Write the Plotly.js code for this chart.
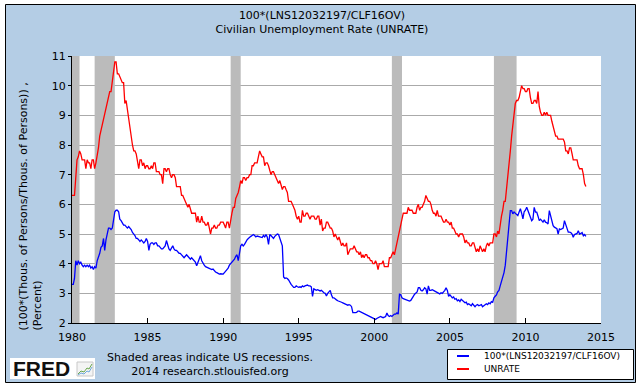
<!DOCTYPE html>
<html>
<head>
<meta charset="utf-8">
<script src="https://cdn.plot.ly/plotly-3.0.1.min.js"></script>
<style>html,body{margin:0;padding:0;background:#fff}#chart{width:644px;height:390px}</style>
</head>
<body>
<div id="chart"></div>
<script>
// ---------------- DATA ----------------
const startYear = 1980;
const seriesNames = ['100*(LNS12032197/CLF16OV)', 'UNRATE'];
const titleLines = ['100*(LNS12032197/CLF16OV)', 'Civilian Unemployment Rate (UNRATE)'];
const yTitleLines = ['(100*(Thous. of Persons/Thous. of Persons)) ,', '(Percent)'];
const noteLines = ['Shaded areas indicate US recessions.', '2014 research.stlouisfed.org'];
const xRange = ['1980-01-01', '2015-01-01'];
const yRange = [2, 11];
const recStart = ['1980-01-01', '1981-07-01', '1990-07-01', '2001-03-01', '2007-12-01'];
const recEnd   = ['1980-07-01', '1982-11-01', '1991-03-01', '2001-11-01', '2009-06-01'];

// monthly, Jan 1980 .. Jan 2014
const ratioSeries = [
 3.3,3.3,3.5,4.1,3.95,4.1,4.0,4.05,3.95,3.9,3.95,3.9,        // 1980
 3.95,3.9,3.95,3.85,3.9,3.8,3.9,3.85,4.1,4.2,4.35,4.55,      // 1981
 4.6,4.85,4.45,4.8,5.0,5.2,5.2,5.15,5.2,5.5,5.75,5.8,        // 1982
 5.8,5.75,5.5,5.45,5.35,5.3,5.3,5.25,5.2,5.25,5.2,5.15,      // 1983
 5.05,5.0,4.95,4.85,4.85,4.8,4.75,4.8,4.75,4.7,4.75,4.85,    // 1984
 4.75,4.45,4.65,4.7,4.7,4.65,4.7,4.7,4.6,4.6,4.55,4.5,       // 1985
 4.5,4.55,4.6,4.78,4.6,4.5,4.45,4.55,4.6,4.5,4.45,4.45,      // 1986
 4.4,4.35,4.35,4.3,4.25,4.2,4.25,4.3,4.25,4.2,4.15,4.2,      // 1987
 4.15,4.1,4.05,3.93,4.05,4.15,4.27,4.1,4.0,3.95,3.9,3.88,    // 1988
 3.85,3.82,3.8,3.8,3.82,3.75,3.72,3.7,3.68,3.65,3.66,3.65,   // 1989
 3.65,3.7,3.75,3.78,3.85,3.95,4.0,4.05,4.1,4.15,4.25,4.3,    // 1990
 4.1,4.45,4.6,4.65,4.6,4.65,4.75,4.8,4.85,4.9,4.92,4.95,     // 1991
 4.98,4.95,4.9,4.93,4.92,4.9,4.9,4.88,4.95,4.9,4.98,4.9,     // 1992
 4.65,4.98,4.95,4.9,4.85,4.92,4.95,5.0,4.98,4.85,4.75,4.6,   // 1993
 3.55,3.5,3.52,3.5,3.45,3.35,3.3,3.25,3.2,3.2,3.25,3.22,     // 1994
 3.2,3.22,3.2,3.25,3.22,3.25,3.27,3.28,3.25,3.25,3.22,2.9,   // 1995
 3.15,3.12,3.1,3.12,3.1,3.08,3.1,3.05,3.02,3.0,2.91,3.0,     // 1996
 3.05,3.1,2.95,2.85,2.85,2.8,2.78,2.75,2.74,2.72,2.7,2.68,   // 1997
 2.65,2.63,2.62,2.6,2.62,2.6,2.55,2.35,2.34,2.35,2.36,2.4,   // 1998
 2.4,2.38,2.36,2.33,2.32,2.3,2.28,2.25,2.23,2.22,2.2,2.18,   // 1999
 2.15,2.12,2.15,2.18,2.2,2.22,2.2,2.18,2.2,2.22,2.34,2.25,   // 2000
 2.22,2.25,2.22,2.28,2.3,2.3,2.34,2.3,2.97,2.95,2.85,2.82,   // 2001
 2.8,2.8,2.78,2.76,2.74,2.76,2.85,2.9,2.97,3.0,3.05,3.19,    // 2002
 3.19,3.1,3.08,3.12,3.19,3.15,2.97,3.25,3.1,3.1,3.12,3.1,    // 2003
 3.08,3.05,3.03,3.0,2.98,3.02,3.0,3.05,3.1,3.19,3.1,2.9,     // 2004
 2.95,2.9,2.85,2.88,2.8,2.82,2.75,2.78,2.72,2.8,2.75,2.7,    // 2005
 2.68,2.7,2.62,2.65,2.6,2.58,2.65,2.6,2.55,2.6,2.62,2.58,    // 2006
 2.6,2.62,2.55,2.58,2.6,2.65,2.62,2.68,2.65,2.72,2.7,2.85,   // 2007
 2.9,2.95,3.05,3.1,3.25,3.4,3.5,3.7,3.95,4.43,4.9,5.34,      // 2008
 5.79,5.79,5.68,5.74,5.7,5.65,5.62,5.74,5.85,5.7,5.51,5.75,  // 2009
 5.8,5.9,5.8,5.7,5.57,5.45,5.5,5.9,5.74,5.74,5.6,5.45,       // 2010
 5.5,5.45,5.4,5.48,5.4,5.38,5.34,5.79,5.6,5.4,5.28,5.23,     // 2011
 5.2,5.18,5.0,5.17,5.15,5.17,5.2,5.45,5.3,5.2,5.06,5.06,     // 2012
 5.05,5.0,4.89,4.98,5.0,5.02,5.11,5.0,5.02,5.05,4.94,4.98,   // 2013
 4.92                                                        // 2014
];

const unrate = [
 6.3,6.3,6.3,6.9,7.5,7.6,7.8,7.7,7.5,7.5,7.5,7.2,            // 1980
 7.5,7.4,7.4,7.2,7.5,7.5,7.2,7.4,7.6,7.9,8.3,8.5,            // 1981
 8.6,8.9,9.0,9.3,9.4,9.6,9.8,9.8,10.1,10.4,10.8,10.8,        // 1982
 10.4,10.4,10.3,10.2,10.1,10.1,9.4,9.5,9.2,8.8,8.5,8.3,      // 1983
 8.0,7.8,7.8,7.7,7.4,7.2,7.5,7.5,7.3,7.4,7.2,7.3,            // 1984
 7.3,7.2,7.2,7.3,7.2,7.4,7.4,7.1,7.1,7.1,7.0,7.0,            // 1985
 6.7,7.2,7.2,7.1,7.2,7.2,7.0,6.9,7.0,7.0,6.9,6.6,            // 1986
 6.6,6.6,6.6,6.3,6.3,6.2,6.1,6.0,5.9,6.0,5.8,5.7,            // 1987
 5.7,5.7,5.7,5.4,5.6,5.4,5.4,5.6,5.4,5.4,5.3,5.3,            // 1988
 5.4,5.2,5.0,5.2,5.2,5.3,5.2,5.2,5.3,5.3,5.4,5.4,            // 1989
 5.4,5.3,5.2,5.4,5.4,5.2,5.5,5.7,5.9,5.9,6.2,6.3,            // 1990
 6.4,6.6,6.8,6.7,6.9,6.9,6.8,6.9,6.9,7.0,7.0,7.3,            // 1991
 7.3,7.4,7.4,7.4,7.6,7.8,7.7,7.6,7.6,7.3,7.4,7.4,            // 1992
 7.3,7.1,7.0,7.1,7.1,7.0,6.9,6.8,6.7,6.8,6.6,6.5,            // 1993
 6.6,6.6,6.5,6.4,6.1,6.1,6.1,6.0,5.9,5.8,5.6,5.5,            // 1994
 5.6,5.4,5.4,5.8,5.6,5.6,5.7,5.7,5.6,5.5,5.6,5.6,            // 1995
 5.6,5.5,5.5,5.6,5.6,5.3,5.5,5.1,5.2,5.2,5.4,5.4,            // 1996
 5.3,5.2,5.2,5.1,4.9,5.0,4.9,4.8,4.9,4.7,4.6,4.7,            // 1997
 4.6,4.6,4.7,4.3,4.4,4.5,4.5,4.5,4.6,4.5,4.4,4.4,            // 1998
 4.3,4.4,4.2,4.3,4.2,4.3,4.3,4.2,4.2,4.1,4.1,4.0,            // 1999
 4.0,4.1,4.0,3.8,4.0,4.0,4.0,4.1,3.9,3.9,3.9,3.9,            // 2000
 4.2,4.2,4.3,4.4,4.3,4.5,4.6,4.9,5.0,5.3,5.5,5.7,            // 2001
 5.7,5.7,5.7,5.9,5.8,5.8,5.8,5.7,5.7,5.7,5.9,6.0,            // 2002
 5.8,5.9,5.9,6.0,6.1,6.3,6.2,6.1,6.1,6.0,5.8,5.7,            // 2003
 5.7,5.6,5.8,5.6,5.6,5.6,5.5,5.4,5.4,5.5,5.4,5.4,            // 2004
 5.3,5.4,5.2,5.2,5.1,5.0,5.0,4.9,5.0,5.0,5.0,4.9,            // 2005
 4.7,4.8,4.7,4.7,4.6,4.6,4.7,4.7,4.5,4.4,4.5,4.4,            // 2006
 4.6,4.5,4.4,4.5,4.4,4.6,4.7,4.6,4.7,4.7,4.7,5.0,            // 2007
 5.0,4.9,5.1,5.0,5.4,5.6,5.8,6.1,6.1,6.5,6.8,7.3,            // 2008
 7.8,8.3,8.7,9.0,9.4,9.5,9.5,9.6,9.8,10.0,9.9,9.9,           // 2009
 9.8,9.8,9.9,9.9,9.6,9.4,9.4,9.5,9.5,9.4,9.8,9.3,            // 2010
 9.1,9.0,9.0,9.1,9.0,9.1,9.0,9.0,9.0,8.8,8.6,8.5,            // 2011
 8.3,8.3,8.2,8.2,8.2,8.2,8.2,8.1,7.8,7.8,7.7,7.9,            // 2012
 7.9,7.7,7.5,7.5,7.5,7.5,7.3,7.2,7.2,7.2,7.0,6.7,            // 2013
 6.6                                                         // 2014
];

// ---------------- BUILD ----------------
const months = ratioSeries.map((_, i) => {
  const y = startYear + Math.floor(i / 12);
  const m = (i % 12) + 1;
  return y + '-' + String(m).padStart(2, '0') + '-01';
});

const W = 644, H = 390;
const M = {l: 72, r: 43, t: 56, b: 67};
const PW = W - M.l - M.r, PH = H - M.t - M.b;
const px = p => (p - M.l) / PW;        // pixel x -> paper x
const py = p => (H - M.b - p) / PH;    // pixel y -> paper y

const BG = '#b4cde5';
const FONT = 'DejaVu Sans, Verdana, sans-serif';

const shapes = [];
// light-blue frame with black border
shapes.push({type: 'rect', xref: 'paper', yref: 'paper', layer: 'below',
  x0: px(5.5), x1: px(635.5), y0: py(382.5), y1: py(4.5),
  fillcolor: BG, line: {color: '#000', width: 1}});
// white plot area
shapes.push({type: 'rect', xref: 'paper', yref: 'paper', layer: 'below',
  x0: 0, x1: 1, y0: 0, y1: 1, fillcolor: '#ffffff', line: {width: 0}});
// recessions
recStart.forEach((s, i) => shapes.push({type: 'rect', xref: 'x', yref: 'y', layer: 'between',
  x0: s, x1: recEnd[i], y0: yRange[0], y1: yRange[1],
  fillcolor: '#bbbbbb', line: {width: 0}}));
// legend box
shapes.push({type: 'rect', xref: 'paper', yref: 'paper', layer: 'above',
  x0: px(447.5), x1: px(633.5), y0: py(379.5), y1: py(349.5),
  fillcolor: '#ffffff', line: {color: '#000', width: 1}});
const legendColors = ['#0000ff', '#ff0000'];
const legendY = [356, 369];
legendColors.forEach((c, i) => shapes.push({type: 'line', xref: 'paper', yref: 'paper', layer: 'above',
  x0: px(457), x1: px(469), y0: py(legendY[i]), y1: py(legendY[i]), line: {color: c, width: 2}}));
// FRED logo box + icon
shapes.push({type: 'rect', xref: 'paper', yref: 'paper', layer: 'above',
  x0: px(10), x1: px(95), y0: py(379), y1: py(358), fillcolor: '#ffffff', line: {width: 0}});
shapes.push({type: 'rect', xref: 'paper', yref: 'paper', layer: 'above',
  x0: px(77), x1: px(93), y0: py(376), y1: py(362), fillcolor: '#f4f4f4', line: {color: '#c8c8c8', width: 1}});
function iconPath(pts) {
  return 'M' + pts.map(p => px(p[0]) + ',' + py(p[1])).join(' L');
}
shapes.push({type: 'path', xref: 'paper', yref: 'paper', layer: 'above',
  path: iconPath([[78,374],[81,371],[84,372],[87,368],[89,369],[92,364]]), line: {color: '#6aa84f', width: 1}});
shapes.push({type: 'path', xref: 'paper', yref: 'paper', layer: 'above',
  path: iconPath([[78,375],[81,373],[84,374],[87,371],[89,372],[92,367]]), line: {color: '#6fa8dc', width: 1}});

const annotations = [];
annotations.push({xref: 'paper', yref: 'paper', x: px(29.5), y: py(333), xanchor: 'center', yanchor: 'bottom',
  textangle: -90, align: 'left', showarrow: false, text: yTitleLines.join('<br>'),
  font: {family: FONT, size: 11, color: '#000'}});
seriesNames.forEach((n, i) => annotations.push({xref: 'paper', yref: 'paper', x: px(482), y: py(legendY[i]),
  xanchor: 'left', yanchor: 'middle', showarrow: false, text: n,
  font: {family: FONT, size: 9, color: '#000'}}));
annotations.push({xref: 'paper', yref: 'paper', x: px(210), y: py(364), xanchor: 'center', yanchor: 'middle',
  showarrow: false, align: 'center', text: noteLines.join('<br>'),
  font: {family: FONT, size: 11, color: '#000'}});
annotations.push({xref: 'paper', yref: 'paper', x: px(11), y: py(368.5), xanchor: 'left', yanchor: 'middle',
  showarrow: false, text: '<b>FRED</b>',
  font: {family: 'Liberation Sans, Arial, sans-serif', size: 21, color: '#111'}});

const traces = [
  {x: months, y: ratioSeries, name: seriesNames[0], type: 'scatter', mode: 'lines',
   line: {color: '#0000ff', width: 1.3}},
  {x: months, y: unrate, name: seriesNames[1], type: 'scatter', mode: 'lines',
   line: {color: '#ff0000', width: 1.3}}
];

const layout = {
  width: W, height: H,
  margin: M,
  paper_bgcolor: '#ffffff',
  plot_bgcolor: '#ffffff',
  showlegend: false,
  font: {family: FONT, size: 11, color: '#000'},
  title: {text: titleLines.join('<br>'), xref: 'container', yref: 'container', x: 0.5, y: 1 - 19 / H,
    xanchor: 'center', yanchor: 'top', font: {family: FONT, size: 11, color: '#000'}},
  xaxis: {type: 'date', range: xRange, tick0: xRange[0], dtick: 'M60', tickformat: '%Y',
    ticks: 'inside', ticklen: 5, tickcolor: '#000', tickwidth: 1, ticklabelstandoff: 4,
    showline: true, linecolor: '#000', linewidth: 1, showgrid: false, zeroline: false,
    tickfont: {family: FONT, size: 11, color: '#000'}, fixedrange: true},
  yaxis: {range: yRange, tick0: 2, dtick: 1, ticks: 'outside', ticklen: 3, tickcolor: '#000', tickwidth: 1,
    showline: true, linecolor: '#000', linewidth: 1, showgrid: true, gridcolor: '#aaaaaa', gridwidth: 1,
    zeroline: false, tickfont: {family: FONT, size: 11, color: '#000'}, fixedrange: true},
  shapes: shapes,
  annotations: annotations
};

Plotly.newPlot('chart', traces, layout, {displayModeBar: false, staticPlot: true});
</script>
</body>
</html>
